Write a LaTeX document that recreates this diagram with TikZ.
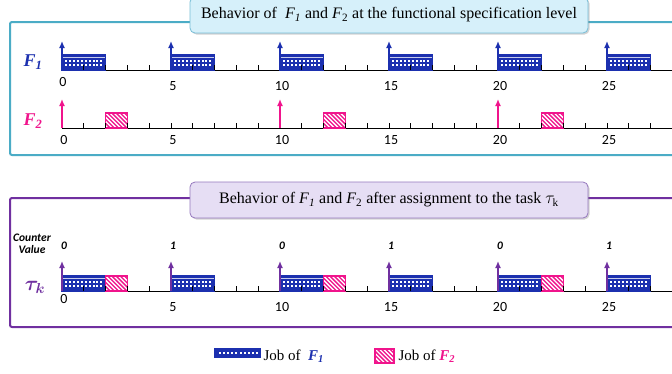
\documentclass[tikz,border=0pt]{standalone}
\usepackage{fontspec}
\setmainfont{Liberation Serif}
\newfontfamily\numfont{Carlito}
\usetikzlibrary{arrows.meta,shadows}
\definecolor{jobblue}{RGB}{28,48,175}
\definecolor{jobpink}{RGB}{240,20,140}
\definecolor{frameteal}{RGB}{75,172,198}
\definecolor{purp}{RGB}{112,48,160}
\definecolor{cyanfill}{RGB}{214,240,250}
\definecolor{cyanedge}{RGB}{120,190,215}
\definecolor{lavfill}{RGB}{230,222,244}
\definecolor{lavedge}{RGB}{150,120,190}
\tikzset{
  axisline/.style={line width=0.9pt,black},
  tickline/.style={line width=0.7pt,black},
  relarrow/.style={-{Latex[length=7pt,width=6pt]},line width=1.8pt},
  numlbl/.style={font=\numfont\fontsize{14}{16}\selectfont},
  cntlbl/.style={font=\numfont\bfseries\itshape\fontsize{11.5}{12}\selectfont},
  titlebox/.style={rounded corners=5pt,line width=0.8pt,drop shadow={opacity=0.35,shadow xshift=1.5pt,shadow yshift=-1.5pt}},
  titletext/.style={font=\fontsize{16}{18}\selectfont},
}
\newcommand\bluejob[3]{% x0, yaxis, width
  \fill[jobblue] (#1,#2) rectangle ++(#3,-15);
  \fill[white!75!jobblue] (#1+1,#2-12.6) rectangle ++(#3-2,0.8);
  \foreach \ii in {0,...,9}{
    \fill[white] (#1+3.2+\ii*3.9,#2-10.2) rectangle ++(2,1.7);
    \fill[white] (#1+3.2+\ii*3.9,#2-6.0) rectangle ++(2,1.7);
  }
  \draw[jobblue,line width=1.5pt] (#1,#2) rectangle ++(#3,-15);
}
\newcommand\pinkjob[2]{% x0, yaxis
  \begin{scope}
    \clip (#1,#2) rectangle ++(21.8,-15);
    \fill[jobpink] (#1,#2) rectangle ++(21.8,-15);
    \foreach \kk in {-4,...,6}{
      \draw[white,line width=1.3pt] (#1+\kk*4.2,#2-15) -- ++(16,16);
    }
  \end{scope}
  \draw[jobpink,line width=1.5pt] (#1,#2) rectangle ++(21.8,-15);
}
\newcommand\timeaxis[1]{% yaxis
  \draw[axisline] (62,#1) -- (675,#1);
}
\newcommand\timeticks[1]{% yaxis
  \foreach \tv in {1,...,28}{\draw[tickline] (62+\tv*21.8,#1) -- ++(0,-5);}
}
\begin{document}
\begin{tikzpicture}[x=1pt,y=-1pt]
\useasboundingbox (0,0) rectangle (672,373);
\clip (0,0) rectangle (672,373);
\fill[white] (0,0) rectangle (672,373);

% ---------- top panel ----------
\draw[frameteal,line width=2pt,rounded corners=2pt] (690,22) -- (10,22) -- (10,155) -- (690,155);
\node[titlebox,draw=cyanedge,fill=cyanfill,minimum width=398pt,minimum height=36pt,titletext] (t1) at (389,15)
  {Behavior of \ \textit{F}\textsubscript{\textit{1}} and \textit{F}\textsubscript{2} at the functional specification level};

% F1 row
\timeaxis{70}
\node[text=jobblue,font=\fontsize{18}{20}\selectfont\bfseries\itshape] (lf1) at (33,62) {F\textsubscript{1}};
\foreach \t in {0,5,10,15,20,25}{\bluejob{62+\t*21.8}{70}{43.6}}
\timeticks{70}
\foreach \t in {0,5,10,15,20,25}{
  \draw[relarrow,jobblue] (62+\t*21.8,70) -- (62+\t*21.8,41);
}
\node[numlbl] (n10) at (63,82) {0};
\foreach \t/\l in {5/5,10/10,15/15,20/20,25/25}{
  \node[numlbl] (n1\l) at (64+\t*21.8,86) {\l};
}

% F2 row
\timeaxis{128}
\node[text=jobpink,font=\fontsize{18}{20}\selectfont\bfseries\itshape] (lf2) at (33,121) {F\textsubscript{2}};
\foreach \t in {2,12,22}{\pinkjob{62+\t*21.8}{128}}
\timeticks{128}
\foreach \t in {0,10,20}{
  \draw[relarrow,jobpink] (62+\t*21.8,128) -- (62+\t*21.8,99);
}
\foreach \t/\l in {0/0,5/5,10/10,15/15,20/20,25/25}{
  \node[numlbl] (n2\l) at (64+\t*21.8,140) {\l};
}

% ---------- bottom panel ----------
\draw[purp,line width=2pt,rounded corners=2pt] (690,198) -- (10,198) -- (10,327) -- (690,327);
\node[titlebox,draw=lavedge,fill=lavfill,minimum width=398pt,minimum height=36pt,titletext] (t2) at (389,200)
  {Behavior of \textit{F}\textsubscript{\textit{1}} and \textit{F}\textsubscript{2} after assignment to the task $\tau_{\mathrm{k}}$};

\node[cntlbl,align=center] (cv) at (32,244) {Counter\\[0pt]Value};
\foreach \t/\c in {0/0,5/1,10/0,15/1,20/0,25/1}{
  \node[cntlbl] (c\t) at (64+\t*21.8,246) {\c};
}
\timeaxis{291}
\node[text=purp,font=\fontsize{22}{24}\selectfont\boldmath] (ltk) at (35,287) {$\tau_k$};
\foreach \t in {0,5,10,15,20,25}{\bluejob{62+\t*21.8}{291}{43.6}}
\foreach \t in {2,12,22}{\pinkjob{62+\t*21.8}{291}}
\timeticks{291}
\foreach \t in {0,5,10,15,20,25}{
  \draw[relarrow,purp] (62+\t*21.8,291) -- (62+\t*21.8,261);
}
\node[numlbl] (n30) at (64,299) {0};
\foreach \t/\l in {5/5,10/10,15/15,20/20,25/25}{
  \node[numlbl] (n3\l) at (64+\t*21.8,307) {\l};
}

% ---------- legend ----------
\fill[jobblue] (215,349) rectangle (260,357);
\foreach \ii in {0,...,9}{\fill[white] (218.5+\ii*4.2,352.2) rectangle ++(2,1.6);}
\draw[jobblue,line width=1.4pt] (215,349) rectangle (260,357);
\node[anchor=west,font=\fontsize{15}{17}\selectfont] (lg1) at (260,356) {Job of \ \textcolor{jobblue}{\textbf{\textit{F}}\textsubscript{\textbf{\textit{1}}}}};
\begin{scope}
  \clip (375,349) rectangle (394,363);
  \fill[jobpink] (375,349) rectangle (394,363);
  \foreach \kk in {-4,...,5}{\draw[white,line width=1.3pt] (375+\kk*4.2,349) -- ++(16,16);}
\end{scope}
\draw[jobpink,line width=1.4pt] (375,349) rectangle (394,363);
\node[anchor=west,font=\fontsize{15}{17}\selectfont] (lg2) at (395,356) {Job of \textcolor{jobpink}{\textbf{\textit{F}}\textsubscript{\textbf{\textit{2}}}}};
\end{tikzpicture}
\end{document}
